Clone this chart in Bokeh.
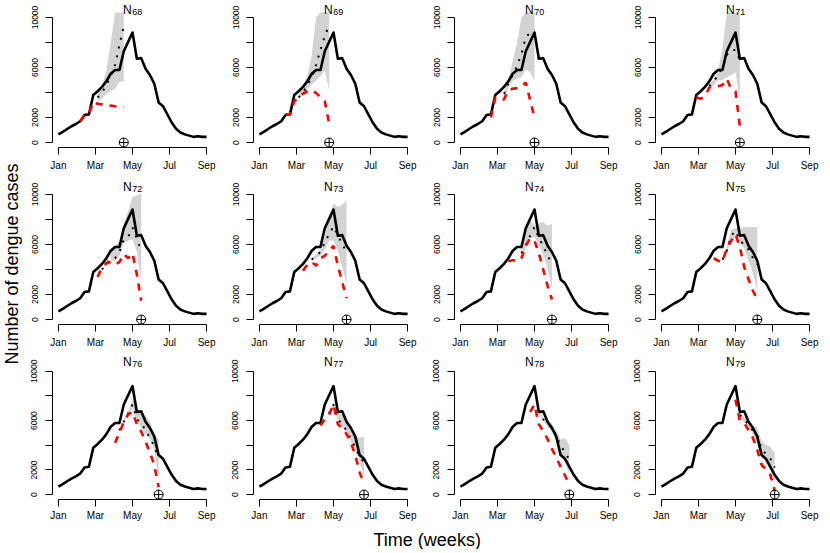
import math
from bokeh.plotting import figure
from bokeh.layouts import row, column
from bokeh.models import Range1d, FixedTicker, Label
from bokeh.embed import file_html
from bokeh.resources import INLINE

# ---------------- data ----------------
weeks = list(range(35))
observed = [650, 850, 1080, 1300, 1480, 1700, 2200, 2250, 3800, 4100,
            4450, 4900, 5500, 5800, 5800, 7300, 8050, 8800, 6700, 6750,
            5900, 5400, 4700, 3200, 2900, 2250, 1600, 1100, 800, 650,
            550, 450, 500, 450, 450]

month_ticks = [0, 8.5, 17, 25.5, 34]
month_labels = ["Jan", "Mar", "May", "Jul", "Sep"]
case_ticks = [0, 2000, 4000, 6000, 8000, 10000]
case_labels = ["0", "2000", "", "6000", "", "10000"]

panel_ids = ["68", "69", "70", "71", "72", "73", "74", "75", "76", "77", "78", "79"]
nowcast_week = [15, 16, 17, 18, 19, 20, 21, 22, 23, 24, 25, 26]

reported_68 = [1700, 2200, 2250, 3250, 3100, 3050, 3000, 2950, 2900, 2850, 2850]
lower_68 = [3300, 3500, 3900, 4100, 4300, 4850, 4900]
upper_68 = [3900, 4600, 5700, 8000, 11000, 13000, 15000]
median_68 = [3600, 4000, 4600, 5300, 6200, 7800, 9300]

reported_69 = [2250, 2250, 3300, 3600, 3900, 4100, 4200, 3950, 3650, 3300, 1500]
lower_69 = [3500, 3900, 4300, 4650, 4950, 5300, 5750, 4200]
upper_69 = [3800, 4500, 5300, 7000, 10000, 12000, 13000, 14000]
median_69 = [3600, 4000, 4600, 5200, 6200, 7400, 8500, 9400]

reported_70 = [2000, 3600, 3500, 3450, 4200, 4300, 4350, 4450, 4800, 3400, 2000]
lower_70 = [3400, 4400, 4950, 5100, 5250, 5800, 5650, 4900]
upper_70 = [4000, 5000, 6500, 8000, 10000, 12000, 13000, 14000]
median_70 = [3900, 4700, 5400, 6100, 7100, 8400, 8800, 9000]

reported_71 = [3600, 3500, 3700, 4400, 4500, 4500, 4600, 5100, 4300, 4100, 1300]
lower_71 = [4300, 4600, 5000, 5000, 5200, 5400, 5650, 3400]
upper_71 = [4700, 5000, 5800, 7500, 10500, 12000, 13000, 13000]
median_71 = [4500, 4900, 5400, 6000, 7000, 7400, 7400, 6600]

reported_72 = [3400, 4150, 4500, 4600, 4400, 4600, 5250, 4900, 5300, 3600, 1500]
lower_72 = [4700, 4700, 5100, 6100, 6300, 6400, 5400, 3000]
upper_72 = [5500, 5900, 6300, 7600, 8700, 9800, 9900, 10100]
median_72 = [4000, 4500, 4850, 4900, 5400, 6400, 6600, 7350, 6450, 5500]

reported_73 = [3900, 4400, 4600, 4300, 4900, 5100, 5500, 5900, 4300, 3000, 1700]
lower_73 = [4700, 4900, 5100, 5600, 6300, 6300, 5500, 4200, 2800]
upper_73 = [4900, 5200, 5600, 6700, 8300, 9300, 9000, 9200, 9500]
median_73 = [4800, 5100, 5400, 6200, 6800, 7450, 6700, 6100, 5300]

reported_74 = [4650, 4750, 4650, 4900, 5900, 6500, 6300, 5300, 4000, 2700, 1600]
lower_74 = [5000, 5700, 6500, 6600, 6000, 5200, 4100, 2400]
upper_74 = [5600, 7000, 8000, 7500, 7700, 7800, 7500, 7650]
median_74 = [5300, 5950, 6700, 7400, 6500, 5900, 5100, 4500]

reported_75 = [4900, 4700, 4600, 5700, 6300, 6800, 5800, 4200, 3200, 2300, 1600]
lower_75 = [5400, 6300, 6700, 6100, 5750, 4700, 3700, 2300]
upper_75 = [5800, 7200, 7300, 7300, 7400, 7400, 7400, 7400]
median_75 = [4800, 5500, 6700, 7100, 6300, 6000, 5600, 4900, 4400]

reported_76 = [4200, 5000, 5900, 6500, 6700, 5700, 5100, 4300, 3400, 2400, 600]
lower_76 = [5900, 6400, 7000, 6000, 5400, 4900, 4500, 3600, 1300]
upper_76 = [6100, 6700, 7700, 7000, 6700, 6400, 5900, 5000, 4400]
median_76 = [5200, 5900, 6600, 7300, 6100, 5800, 5200, 4600, 3900, 2900]

reported_77 = [5600, 6100, 6500, 7300, 5700, 5400, 4900, 4200, 3200, 1800, 900]
lower_77 = [6500, 7100, 6000, 5500, 5000, 4300, 3600, 2700, 1400]
upper_77 = [6700, 7500, 6600, 6500, 6000, 5400, 4700, 4600, 4700]
median_77 = [6600, 7300, 6100, 5700, 5200, 4500, 3800, 3100, 2600]

reported_78 = [6700, 7300, 5700, 5150, 4500, 3700, 3000, 2250, 1550, 800]
lower_78 = [6700, 5950, 5500, 5100, 4400, 3300, 2650, 1600]
upper_78 = [6950, 6250, 6000, 5750, 5200, 4450, 4600, 4000]
median_78 = [6800, 6100, 5750, 5400, 4800, 3900, 3500, 2800]

reported_79 = [7700, 6000, 5800, 5200, 4600, 3600, 2400, 2050, 1600, 300]
lower_79 = [6300, 5900, 5400, 4900, 4200, 3000, 2600, 2000, 1000]
upper_79 = [6600, 6300, 5900, 5600, 5400, 4300, 4050, 3850, 3400]
median_79 = [6450, 6100, 5650, 5200, 4800, 3650, 3300, 2900, 2200]

reported = [reported_68, reported_69, reported_70, reported_71, reported_72, reported_73,
            reported_74, reported_75, reported_76, reported_77, reported_78, reported_79]
lower = [lower_68, lower_69, lower_70, lower_71, lower_72, lower_73,
         lower_74, lower_75, lower_76, lower_77, lower_78, lower_79]
upper = [upper_68, upper_69, upper_70, upper_71, upper_72, upper_73,
         upper_74, upper_75, upper_76, upper_77, upper_78, upper_79]
median = [median_68, median_69, median_70, median_71, median_72, median_73,
          median_74, median_75, median_76, median_77, median_78, median_79]

# ---------------- styling ----------------
FONT = "Liberation Sans"
PANEL_W = 201
FRAME_W = 160
PLOT_H = 135          # pixel height of the plot region (-400 .. 10400)
TITLE_H = 12          # room above it, kept inside the frame for the panel title
FRAME_H = PLOT_H + TITLE_H
LEFT = 30
Y_LO, Y_HI = -400, 10400
Y_TOP = Y_HI + (Y_HI - Y_LO) * TITLE_H / PLOT_H


def weeks_ending(now, n):
    return [now - (n - 1) + i for i in range(n)]


def make_panel(i, last_row):
    bottom = 22 if last_row else 30
    h = FRAME_H + bottom
    p = figure(width=PANEL_W, height=h, output_backend="svg", toolbar_location=None,
               x_range=Range1d(-1.36, 35.36), y_range=Range1d(Y_LO, Y_TOP),
               min_border_left=LEFT, min_border_right=PANEL_W - LEFT - FRAME_W,
               min_border_top=0, min_border_bottom=bottom)
    p.outline_line_color = None
    p.xgrid.visible = False
    p.ygrid.visible = False
    p.background_fill_color = "white"
    p.border_fill_color = "white"

    now = nowcast_week[i]
    xb = weeks_ending(now, len(lower[i]))
    # the band is clipped at the top of the plotting region, as in the original
    up_clip = [min(u, Y_HI) for u in upper[i]]
    p.varea(x=xb, y1=lower[i], y2=up_clip, fill_color="#D3D3D3", fill_alpha=1.0)
    p.line(weeks, observed, line_color="black", line_width=2.6, line_join="round")
    xm = weeks_ending(now, len(median[i]))
    p.line(xm, median[i], line_color="black", line_width=2, line_dash="2 7")
    xr = weeks_ending(now, len(reported[i]))
    p.line(xr, reported[i], line_color="#FF0000", line_width=2.6, line_dash="7 7")
    p.scatter([now], [0], marker="circle_cross", size=9, fill_color=None,
              line_color="black", line_width=1)

    for ax in (p.xaxis[0], p.yaxis[0]):
        ax.axis_line_color = "black"
        ax.axis_line_width = 1
        ax.major_tick_line_color = "black"
        ax.major_tick_out = 7
        ax.major_tick_in = 0
        ax.minor_tick_line_color = None
        ax.major_label_text_font = FONT
        ax.major_label_text_color = "black"

    xa = p.xaxis[0]
    xa.ticker = FixedTicker(ticks=month_ticks)
    xa.major_label_overrides = dict(zip(month_ticks, month_labels))
    xa.bounds = (month_ticks[0], month_ticks[-1])
    xa.major_label_text_font_size = "10px"
    xa.major_label_standoff = 3 if last_row else 5

    ya = p.yaxis[0]
    ya.ticker = FixedTicker(ticks=case_ticks)
    ya.major_label_overrides = dict(zip(case_ticks, case_labels))
    ya.bounds = (case_ticks[0], case_ticks[-1])
    ya.major_label_text_font_size = "8.5px"
    ya.major_label_orientation = "vertical"
    ya.major_label_standoff = 8

    cx = FRAME_W / 2
    p.add_layout(Label(x=cx - 0.8, y=PLOT_H + 2.7, x_units="screen", y_units="screen",
                       text="N", text_align="right", text_baseline="alphabetic",
                       text_font=FONT, text_font_size="12px", text_color="black"))
    p.add_layout(Label(x=cx - 0.3, y=PLOT_H + 0.3, x_units="screen", y_units="screen",
                       text=panel_ids[i], text_align="left", text_baseline="alphabetic",
                       text_font=FONT, text_font_size="9px", text_color="black"))
    return p


panels = [make_panel(i, i >= 8) for i in range(12)]
rows = [row(*panels[r * 4:(r + 1) * 4]) for r in range(3)]

ROWS_H = (FRAME_H + 30) * 2 + (FRAME_H + 22)
BOTTOM_H = 26
TOTAL_H = ROWS_H + BOTTOM_H

left_fig = figure(width=22, height=TOTAL_H, output_backend="svg", toolbar_location=None,
                  x_axis_location=None, y_axis_location=None,
                  x_range=Range1d(0, 1), y_range=Range1d(0, 1),
                  min_border_left=0, min_border_right=0, min_border_top=0, min_border_bottom=0)
left_fig.outline_line_color = None
left_fig.xgrid.visible = False
left_fig.ygrid.visible = False
left_fig.add_layout(Label(x=11.5, y=TOTAL_H - 263.5, x_units="screen", y_units="screen",
                          text="Number of dengue cases", angle=math.pi / 2,
                          text_align="center", text_baseline="middle",
                          text_font=FONT, text_font_size="18px", text_color="black"))

bottom_fig = figure(width=4 * PANEL_W, height=BOTTOM_H, output_backend="svg", toolbar_location=None,
                    x_axis_location=None, y_axis_location=None,
                    x_range=Range1d(0, 1), y_range=Range1d(0, 1),
                    min_border_left=0, min_border_right=0, min_border_top=0, min_border_bottom=0)
bottom_fig.outline_line_color = None
bottom_fig.xgrid.visible = False
bottom_fig.ygrid.visible = False
bottom_fig.add_layout(Label(x=426.7 - 22, y=TOTAL_H - 539.5, x_units="screen", y_units="screen",
                            text="Time (weeks)", text_align="center", text_baseline="alphabetic",
                            text_font=FONT, text_font_size="18px", text_color="black"))

layout = row(left_fig, column(*rows, bottom_fig))

open("out.html", "w").write(file_html(layout, INLINE))
